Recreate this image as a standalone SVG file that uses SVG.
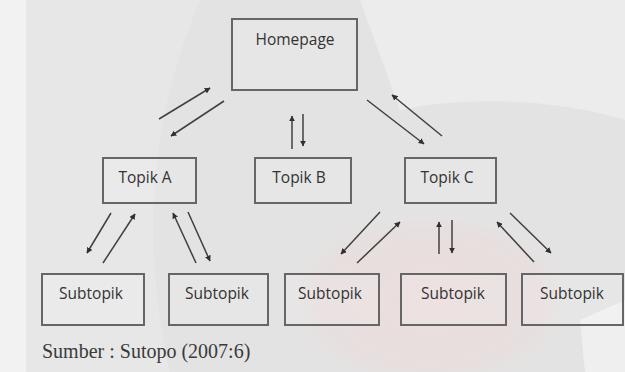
<svg xmlns="http://www.w3.org/2000/svg" width="625" height="372" viewBox="0 0 625 372">
<style>
.box{fill:#ffffff;fill-opacity:0.12;stroke:#666666;stroke-width:2}
.lbl{font-family:"Open Sans","Liberation Sans",sans-serif;font-size:15.5px;fill:#333333;text-anchor:middle}
.ln{stroke:#404040;stroke-width:1.5;fill:none;marker-end:url(#ah)}
.src{font-family:"Liberation Serif","Times New Roman",serif;font-size:20px;fill:#3a3a3a}
</style>
<defs>
<marker id="ah" viewBox="0 0 10 10" refX="9" refY="5" markerWidth="6" markerHeight="6" markerUnits="userSpaceOnUse" orient="auto"><path d="M0,0 L10,5 L0,10 z" fill="#303030"/></marker>
<radialGradient id="pink" cx="0.5" cy="0.5" r="0.5"><stop offset="0" stop-color="#ecdddd"/><stop offset="0.7" stop-color="#eadcdc" stop-opacity="0.6"/><stop offset="1" stop-color="#e6e6e6" stop-opacity="0"/></radialGradient>
</defs>
<g id="background">
<rect width="625" height="372" fill="#e3e3e3"/>
<rect x="0" y="0" width="26" height="372" fill="#f2f2f2"/>
<path d="M360,0 L625,0 L625,120 C560,100 470,95 400,110 Z" fill="#ececec"/>
<path d="M26,0 L200,0 C150,120 140,240 170,372 L26,372 Z" fill="#e7e7e7"/>
<ellipse cx="430" cy="300" rx="160" ry="100" fill="url(#pink)"/>
<path d="M580,320 L625,300 L625,372 L585,372 Z" fill="#efefef"/>
</g>
<g id="connectors">
<line class="ln" x1="159" y1="119" x2="210" y2="88"/>
<line class="ln" x1="224" y1="101" x2="171" y2="136"/>
<line class="ln" x1="292" y1="149" x2="292" y2="116"/>
<line class="ln" x1="303" y1="114" x2="303" y2="146"/>
<line class="ln" x1="367" y1="100" x2="424" y2="144"/>
<line class="ln" x1="442" y1="136" x2="392" y2="95"/>
<line class="ln" x1="111" y1="213" x2="87" y2="253"/>
<line class="ln" x1="103" y1="263" x2="135" y2="214"/>
<line class="ln" x1="196" y1="263" x2="173" y2="213"/>
<line class="ln" x1="188" y1="212" x2="210" y2="261"/>
<line class="ln" x1="380" y1="212" x2="341" y2="254"/>
<line class="ln" x1="357" y1="263" x2="400" y2="222"/>
<line class="ln" x1="439" y1="254" x2="439" y2="222"/>
<line class="ln" x1="452" y1="220" x2="452" y2="253"/>
<line class="ln" x1="534" y1="262" x2="497" y2="222"/>
<line class="ln" x1="510" y1="213" x2="551" y2="253"/>
</g>
<g id="homepage"><rect class="box" x="232" y="19" width="125" height="71"/><text class="lbl" x="295" y="45">Homepage</text></g>
<g id="topik-a"><rect class="box" x="103" y="158" width="93" height="45"/><text class="lbl" x="145" y="183">Topik A</text></g>
<g id="topik-b"><rect class="box" x="255" y="158" width="96" height="45"/><text class="lbl" x="299" y="183">Topik B</text></g>
<g id="topik-c"><rect class="box" x="405" y="158" width="91" height="45"/><text class="lbl" x="447" y="183">Topik C</text></g>
<g id="subtopik-1"><rect class="box" x="42" y="274" width="102" height="51"/><text class="lbl" x="91" y="299">Subtopik</text></g>
<g id="subtopik-2"><rect class="box" x="169" y="274" width="99" height="51"/><text class="lbl" x="217" y="299">Subtopik</text></g>
<g id="subtopik-3"><rect class="box" x="285" y="274" width="94" height="51"/><text class="lbl" x="330" y="299">Subtopik</text></g>
<g id="subtopik-4"><rect class="box" x="401" y="274" width="105" height="51"/><text class="lbl" x="453" y="299">Subtopik</text></g>
<g id="subtopik-5"><rect class="box" x="522" y="274" width="101" height="51"/><text class="lbl" x="572" y="299">Subtopik</text></g>
<text class="src" x="42" y="358">Sumber : Sutopo (2007:6)</text>
</svg>
